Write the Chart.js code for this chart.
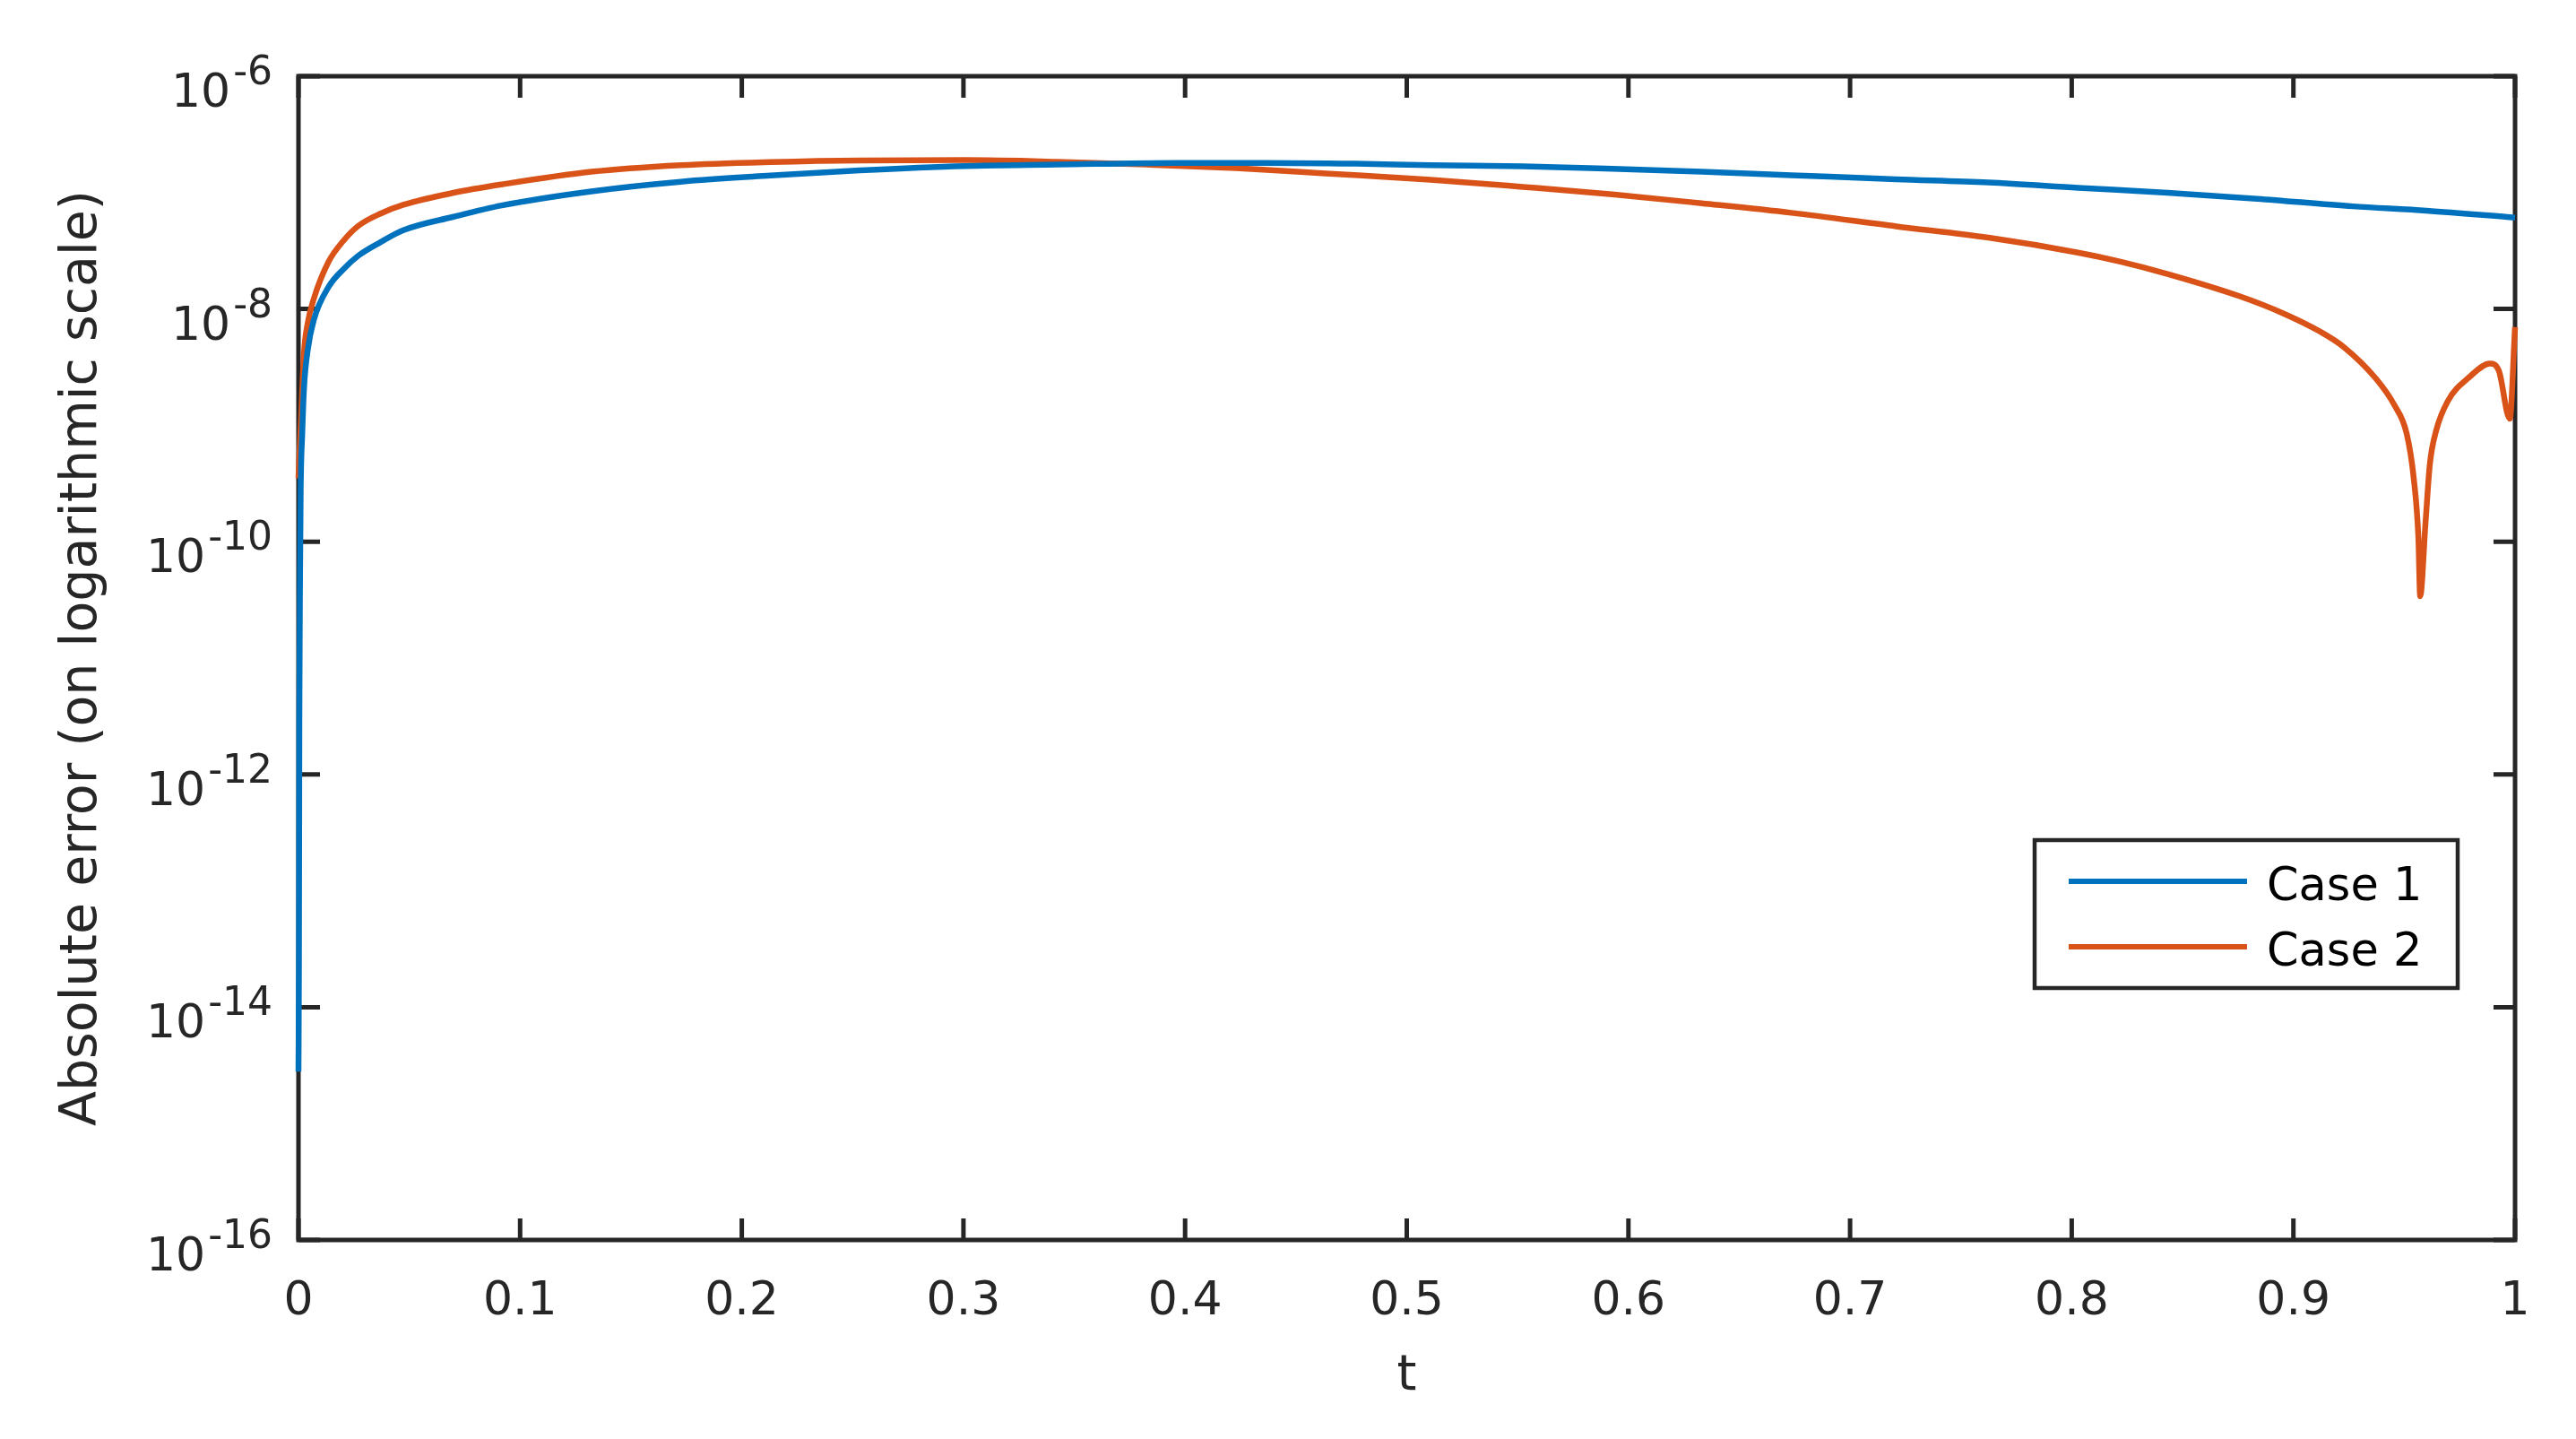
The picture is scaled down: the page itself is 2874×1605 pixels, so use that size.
<!DOCTYPE html>
<html>
<head>
<meta charset="utf-8">
<script src="https://cdn.jsdelivr.net/npm/chart.js@4.4.1/dist/chart.umd.min.js"></script>
<style>
  html, body { margin: 0; padding: 0; background: #fff; overflow: hidden; }
  #wrap { width: 2874px; height: 1605px; position: relative; }
</style>
</head>
<body>
<div id="wrap"><canvas id="errChart"></canvas></div>
<script>
// values
const case1T = [0, 0.0002, 0.0004, 0.0007, 0.001, 0.0017, 0.0025, 0.0042, 0.0069, 0.0136, 0.0203, 0.0271, 0.037, 0.0473, 0.07, 0.0917,
  0.1321, 0.1725, 0.2129, 0.2533, 0.3006, 0.3422, 0.396, 0.4365, 0.4768, 0.5107, 0.5523, 0.5927, 0.6331, 0.6735,
  0.7208, 0.7624, 0.8028, 0.8432, 0.8836, 0.9268, 0.96, 1.0];
const case1Err = [2.8e-15, 2e-14, 3e-12, 5e-11, 2.8e-10, 8.5e-10, 2.1e-9, 4.46e-9, 8.05e-9, 1.55e-8, 2.2e-8, 2.88e-8, 3.75e-8, 4.75e-8, 6.2e-8, 7.76e-8,
  1.025e-7, 1.24e-7, 1.40e-7, 1.55e-7, 1.69e-7, 1.74e-7, 1.80e-7, 1.80e-7, 1.77e-7, 1.72e-7, 1.68e-7, 1.60e-7, 1.51e-7, 1.41e-7,
  1.30e-7, 1.22e-7, 1.10e-7, 9.96e-8, 8.85e-8, 7.62e-8, 7.0e-8, 6.1e-8];

const case2T = [0, 0.0005, 0.0012, 0.0025, 0.0042, 0.0069, 0.0136, 0.0203, 0.0271, 0.037, 0.0473, 0.07, 0.0917, 0.1321, 0.1725, 0.2129,
  0.2533, 0.3006, 0.3422, 0.3826, 0.4230, 0.4634, 0.5107, 0.5523, 0.5927, 0.6331, 0.6735, 0.7208, 0.7624, 0.8028, 0.822, 0.8432,
  0.8756, 0.8958, 0.912, 0.9228, 0.9374, 0.9455, 0.9511, 0.9543, 0.9564, 0.9572, 0.9596, 0.9616, 0.9644, 0.9697, 0.9794,
  0.9887, 0.9927, 0.9976, 1.0];
const case2Err = [3.5e-10, 6e-10, 1.15e-9, 4.2e-9, 7.6e-9, 1.22e-8, 2.55e-8, 3.86e-8, 5.19e-8, 6.6e-8, 7.85e-8, 9.96e-8, 1.175e-7, 1.51e-7, 1.72e-7, 1.83e-7,
  1.89e-7, 1.90e-7, 1.84e-7, 1.74e-7, 1.62e-7, 1.46e-7, 1.29e-7, 1.12e-7, 9.66e-8, 8.09e-8, 6.70e-8, 5.13e-8, 4.10e-8, 3.05e-8, 2.55e-8, 2.0e-8,
  1.29e-8, 9.1e-9, 6.4e-9, 4.7e-9, 2.5e-9, 1.5e-9, 8.5e-10, 3.5e-10, 1.07e-10, 3.4e-11, 1.45e-10, 4.7e-10, 9e-10, 1.62e-9, 2.6e-9,
  3.4e-9, 2.95e-9, 1.14e-9, 7e-9];

const seriesNames = ['Case 1', 'Case 2'];
const xTickValues = [0, 0.1, 0.2, 0.3, 0.4, 0.5, 0.6, 0.7, 0.8, 0.9, 1];
const yTickExponents = [-16, -14, -12, -10, -8, -6];

const BLUE = '#0072BD';
const ORANGE = '#D95319';
const AXIS_COLOR = '#262626';
const FONT = '"DejaVu Sans", "Liberation Sans", Arial, sans-serif';
const TICK_LEN = 24;

function toPoints(ts, vals) {
  return ts.map((t, i) => ({ x: t, y: vals[i] }));
}

// box, inward ticks on all four sides, 10^n labels
const matlabAxes = {
  id: 'matlabAxes',
  beforeDatasetsDraw(chart) {
    const { ctx, chartArea: a } = chart;
    const xs = chart.scales.x, ys = chart.scales.y;
    ctx.save();
    ctx.strokeStyle = AXIS_COLOR;
    ctx.lineWidth = 5;
    ctx.strokeRect(a.left, a.top, a.right - a.left, a.bottom - a.top);
    ctx.beginPath();
    xs.ticks.forEach(tk => {
      const px = xs.getPixelForValue(tk.value);
      ctx.moveTo(px, a.bottom); ctx.lineTo(px, a.bottom - TICK_LEN);
      ctx.moveTo(px, a.top); ctx.lineTo(px, a.top + TICK_LEN);
    });
    ys.ticks.forEach(tk => {
      const py = ys.getPixelForValue(tk.value);
      ctx.moveTo(a.left, py); ctx.lineTo(a.left + TICK_LEN, py);
      ctx.moveTo(a.right, py); ctx.lineTo(a.right - TICK_LEN, py);
    });
    ctx.stroke();

    ctx.fillStyle = AXIS_COLOR;
    ctx.textBaseline = 'alphabetic';
    ctx.textAlign = 'right';
    const labelRight = a.left - 29;
    yTickExponents.forEach(e => {
      const py = ys.getPixelForValue(Number('1e' + e));
      const expText = String(e);
      ctx.font = '44px ' + FONT;
      ctx.fillText(expText, labelRight, py + 9);
      const w = ctx.measureText(expText).width;
      ctx.font = '52px ' + FONT;
      ctx.fillText('10', labelRight - w - 3, py + 34);
    });
    ctx.restore();
  },
  afterDatasetsDraw(chart) {
    const { ctx } = chart;
    const box = { left: 2270, top: 937, right: 2742, bottom: 1102 };
    ctx.save();
    ctx.fillStyle = '#fff';
    ctx.fillRect(box.left, box.top, box.right - box.left, box.bottom - box.top);
    ctx.strokeStyle = AXIS_COLOR;
    ctx.lineWidth = 4.5;
    ctx.strokeRect(box.left, box.top, box.right - box.left, box.bottom - box.top);
    ctx.font = '51px ' + FONT;
    ctx.textAlign = 'left';
    ctx.textBaseline = 'alphabetic';
    chart.data.datasets.forEach((ds, i) => {
      const base = 1004 + i * 73;
      ctx.strokeStyle = ds.borderColor;
      ctx.lineWidth = 6;
      ctx.beginPath();
      ctx.moveTo(2308, base - 21);
      ctx.lineTo(2507, base - 21);
      ctx.stroke();
      ctx.fillStyle = '#000';
      ctx.fillText(ds.label, 2529, base);
    });
    ctx.restore();
  }
};

new Chart(document.getElementById('errChart'), {
  type: 'line',
  data: {
    datasets: [
      { label: seriesNames[0], data: toPoints(case1T, case1Err), borderColor: BLUE },
      { label: seriesNames[1], data: toPoints(case2T, case2Err), borderColor: ORANGE }
    ]
  },
  options: {
    responsive: true,
    maintainAspectRatio: false,
    animation: false,
    layout: { padding: { left: 0, right: 68, top: 85, bottom: 0 } },
    elements: {
      line: { borderWidth: 6.5, cubicInterpolationMode: 'monotone', borderJoinStyle: 'round', borderCapStyle: 'butt' },
      point: { radius: 0, hoverRadius: 0 }
    },
    datasets: { line: { clip: 10 } },
    plugins: { legend: { display: false }, tooltip: { enabled: false } },
    scales: {
      x: {
        type: 'linear',
        min: 0,
        max: 1,
        grid: { display: false },
        border: { display: false },
        afterBuildTicks: (scale) => { scale.ticks = xTickValues.map(v => ({ value: v })); },
        afterFit: (scale) => { scale.height = 222; },
        ticks: {
          autoSkip: false,
          maxRotation: 0,
          padding: 30,
          color: AXIS_COLOR,
          font: { family: FONT, size: 52 },
          callback: (v) => String(+v.toFixed(1))
        },
        title: {
          display: true,
          text: 't',
          color: AXIS_COLOR,
          font: { family: FONT, size: 56 },
          padding: { top: 0, bottom: 36 }
        }
      },
      y: {
        type: 'logarithmic',
        min: 1e-16,
        max: 1e-6,
        grid: { display: false },
        border: { display: false },
        afterBuildTicks: (scale) => { scale.ticks = yTickExponents.map(e => ({ value: Number('1e' + e) })); },
        afterFit: (scale) => { scale.width = 333; },
        ticks: { display: false },
        title: {
          display: true,
          text: 'Absolute error (on logarithmic scale)',
          color: AXIS_COLOR,
          font: { family: FONT, size: 57 },
          padding: { top: 58, bottom: 0 }
        }
      }
    }
  },
  plugins: [matlabAxes]
});
</script>
</body>
</html>
